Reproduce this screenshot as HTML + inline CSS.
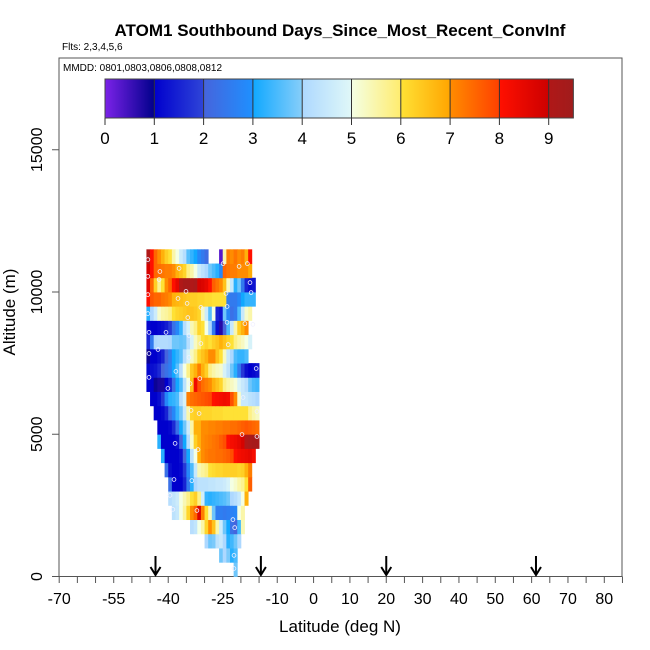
<!DOCTYPE html>
<html><head><meta charset="utf-8">
<style>
html,body{margin:0;padding:0;background:#fff;}
svg{display:block;font-family:"Liberation Sans",Arial,sans-serif;}
</style></head>
<body>
<svg id="chart" width="650" height="650" viewBox="0 0 650 650">
  <text x="340" y="36" text-anchor="middle" font-size="17" font-weight="bold">ATOM1 Southbound Days_Since_Most_Recent_ConvInf</text>
  <text x="62" y="50" font-size="10">Flts: 2,3,4,5,6</text>
  <rect x="59" y="58" width="563" height="518.5" fill="none" stroke="#555" stroke-width="1"/>
  <text x="63" y="71" font-size="10">MMDD: 0801,0803,0806,0808,0812</text>
  <g id="curtain"></g>
  <g id="markers"></g>
  <g id="colorbar"></g>
  <g id="xaxis"></g>
  <g id="yaxis"></g>
  <g id="arrows"></g>
  <text x="340" y="632" text-anchor="middle" font-size="17">Latitude (deg N)</text>
  <text x="0" y="0" transform="translate(15,312) rotate(-90)" text-anchor="middle" font-size="17">Altitude (m)</text>
</svg>
<script>
// ---- data ----
const rowAltStep = 500;
const rowStartLat = [-22,-26,-30,-34,-39,-40,-40,-41,-42,-43,-43,-44,-45,-46,-46,-46,-46,-46,-46,-46,-46,-46,-46];
const rowValues = [
 [3.8],
 [3.8,4.0,3.9,3.2,3.5],
 [4.0,3.8,3.9,4.3,4.5,4.0,3.2,3.4,3.8,4.0],
 [4.2,4.4,5.0,5.5,6.2,7.0,6.5,5.5,4.6,3.8,3.0,2.3,2.0,3.4,5.4],
 [4.3,4.5,5.0,5.6,6.2,7.0,7.5,8.7,7.2,6.0,5.3,3.8,2.6,2.6,2.5,2.6,2.7,2.8,5.0,5.5],
 [4.2,4.4,4.6,5.0,5.4,5.8,6.0,6.3,5.8,4.7,3.3,3.2,3.3,3.4,3.5,3.6,3.8,4.0,4.2,4.5,5.0,6.8],
 [2.3,1.0,1.0,1.0,1.5,2.5,3.2,4.0,4.3,4.3,4.3,4.4,4.4,4.5,4.5,4.6,4.8,5.0,5.2,5.5,5.7,6.0,7.6],
 [2.3,1.2,1.0,1.0,1.1,1.8,2.8,3.5,4.5,5.4,5.6,5.8,6.0,6.1,6.2,6.2,6.3,6.3,6.3,6.3,6.2,6.3,6.8,7.2],
 [3.2,1.0,1.0,1.0,1.0,1.2,2.0,3.0,4.3,5.0,6.8,7.0,7.2,7.3,7.3,7.4,7.4,7.5,7.6,7.8,8.0,8.2,8.3,8.4,8.5,8.2],
 [3.2,1.0,1.0,1.0,1.0,1.2,2.0,3.0,4.2,5.2,6.3,6.8,7.0,7.1,7.2,7.3,7.4,7.6,7.8,8.0,8.2,8.3,8.5,8.8,9.0,9.2,9.3,9.3],
 [1.0,1.0,1.0,1.1,1.6,2.3,3.0,3.8,4.6,5.5,6.8,6.8,7.0,7.0,7.1,7.1,7.2,7.2,7.3,7.3,7.4,7.4,7.5,7.6,7.7,7.6,7.5,7.4],
 [1.0,1.0,1.1,1.5,2.2,2.8,3.3,3.8,4.5,5.5,6.2,6.3,6.3,6.2,6.2,6.2,6.1,6.1,6.1,6.0,6.0,6.0,6.0,6.0,6.0,6.0,5.8,5.5,5.3],
 [1.0,1.0,1.2,1.8,2.8,3.2,3.3,3.5,4.2,4.8,7.2,7.4,7.5,7.6,7.7,7.8,7.9,8.0,8.1,8.2,8.3,8.2,7.8,7.0,5.2,4.5,4.5,4.3,4.2,4.0],
 [1.0,1.0,0.9,0.8,0.8,1.0,1.5,2.2,3.0,3.5,4.3,5.0,6.5,8.3,7.8,7.4,7.2,7.0,6.8,6.5,6.2,5.8,5.5,5.3,5.1,4.8,4.5,4.2,3.8,3.5,3.4],
 [1.1,1.2,1.3,1.6,2.0,2.3,2.6,3.0,3.6,4.2,5.0,5.8,6.4,6.8,7.2,6.8,6.3,5.8,5.5,5.3,5.2,4.8,4.3,3.8,3.2,2.5,1.8,1.2,1.0,1.1,1.3],
 [0.9,1.0,1.0,1.2,1.5,2.0,2.5,3.0,3.3,3.6,4.2,4.8,5.3,5.8,6.2,6.5,6.8,7.0,7.0,6.5,6.0,5.3,4.5,4.0,3.5,3.3,3.3,3.5],
 [1.5,2.5,4.0,4.1,4.1,4.1,4.0,3.8,3.8,3.7,3.8,4.2,4.8,5.3,5.8,6.0,6.2,6.0,6.3,6.5,6.8,6.5,6.2,6.0,5.8,5.5,5.3,5.0,4.8],
 [1.1,1.0,1.0,1.1,1.2,1.4,1.8,2.3,2.8,3.3,4.2,4.8,5.4,5.8,6.2,6.0,5.0,4.0,2.5,1.2,0.7,2.0,3.5,4.5,5.5,6.3,6.8,7.0],
 [3.2,4.0,4.6,5.2,5.5,5.6,5.8,6.0,6.2,6.3,6.4,6.5,6.5,6.4,6.2,5.3,4.6,3.6,5.0,1.5,1.3,3.8,2.8,2.3,2.5,3.5,4.5,5.2,5.5],
 [8.0,7.7,7.5,7.5,7.3,7.2,7.0,6.8,6.7,6.6,6.5,6.4,6.3,6.3,6.2,6.2,6.1,6.1,6.0,6.0,6.0,6.0,2.6,2.5,2.5,2.8,3.0,3.3,3.3,3.3],
 [8.6,7.5,6.3,5.7,6.0,7.0,7.5,8.0,8.5,9.0,9.3,9.3,9.0,9.2,8.8,8.7,8.5,8.0,7.6,7.3,7.0,6.5,5.3,4.5,3.2,3.8,2.5,1.5,1.2,1.3],
 [8.8,8.0,7.5,7.4,7.3,7.2,7.2,7.0,6.8,6.5,6.2,5.8,5.5,5.0,4.6,4.3,4.0,3.8,3.5,3.2,2.8,7.5,7.3,7.2,7.2,7.0,7.0,7.0,6.9],
 [9.0,8.0,7.5,7.0,6.8,6.3,6.0,5.5,5.0,4.6,4.2,3.6,3.3,3.0,2.8,2.5,2.2,null,null,null,0.3,5.5,7.2,7.0,7.3,7.0,7.2,6.8,8.0]
];
const markerLat = [-45.6,-42.3,-37.0,-45.6,-24.9,-18.2,-20.5,-42.5,-35.1,-45.6,-37.3,-34.8,-31.0,-24.1,-17.5,-17.2,-45.6,-34.6,-23.8,-23.8,-18.9,-16.7,-45.3,-40.6,-34.3,-31.0,-23.5,-42.8,-45.3,-34.3,-15.8,-45.3,-37.9,-31.3,-40.1,-34.0,-19.4,-33.7,-31.5,-15.6,-19.7,-15.6,-38.1,-31.8,-38.4,-33.5,-39.5,-38.7,-32.1,-22.2,-21.7,-21.9,-21.9];
const markerAlt = [11140,10720,10830,10550,11000,11000,10900,10440,10020,9910,9770,9600,9460,9950,10330,9980,9240,9100,9490,8930,8890,8860,8580,8580,8470,8190,8150,7980,7840,7700,7310,7000,7210,6960,6610,6780,6290,5840,5730,5800,4990,4920,4680,4460,3410,3370,2850,2360,2320,2000,1720,740,280];
const xTickLabels = ["-70","-55","-40","-25","-10","0","10","20","30","40","50","60","70","80"];
const yTicks = [0,5000,10000,15000];
const arrowLats = [-43.5,-14.5,20,61.2];
const cbarTicks = [0,1,2,3,4,5,6,7,8,9];

// ---- scales ----
const X0 = 59.2, PXDEG = 3.634;
function xs(lat){ return X0 + (lat + 70) * PXDEG; }
function ys(alt){ return 576.5 - alt * 0.02845; }
const CB0 = 105, CBU = 49.3;
function cbx(v){ return CB0 + v * CBU; }

const segCols = [
 ["#7b22e8","#00008b"],["#0000cd","#2f45d8"],["#4664dc","#1e90ff"],["#10a8ff","#87cefa"],
 ["#add8ff","#e0f8f8"],["#f4ffe4","#ffec6e"],["#ffe135","#ffa500"],["#ff8c00","#ff4000"],
 ["#ff1000","#cc0000"],["#b01818","#a01c1c"]
];
function hex(h){ return [parseInt(h.substr(1,2),16),parseInt(h.substr(3,2),16),parseInt(h.substr(5,2),16)]; }
function colorOf(v){
  let i = Math.min(9, Math.max(0, Math.floor(v)));
  let t = Math.min(1, Math.max(0, v - i));
  if (i === 9) t = t * 2;
  const a = hex(segCols[i][0]), b = hex(segCols[i][1]);
  const c = a.map((x,k)=>Math.round(x + (b[k]-x)*Math.min(1,t)));
  return "rgb(" + c.join(",") + ")";
}
const NS = "http://www.w3.org/2000/svg";
function mk(tag, attrs, parent){
  const e = document.createElementNS(NS, tag);
  for (const k in attrs) e.setAttribute(k, attrs[k]);
  parent.appendChild(e);
  return e;
}

// ---- curtain ----
const cg = document.getElementById("curtain");
rowValues.forEach((vals, k) => {
  const y1 = ys((k+1)*rowAltStep), y0 = ys(k*rowAltStep);
  vals.forEach((v, j) => {
    if (v === null) return;
    const lat = rowStartLat[k] + j;
    const r = mk("rect", {x: xs(lat).toFixed(2), y: y1.toFixed(2), width: (PXDEG+0.4).toFixed(2), height: (y0-y1+0.4).toFixed(2), fill: colorOf(v)}, cg);
    
    
  });
});

// ---- markers ----
const mg = document.getElementById("markers");
markerLat.forEach((lat, i) => {
  const c = mk("circle", {cx: xs(lat).toFixed(1), cy: ys(markerAlt[i]).toFixed(1), r: 1.9, fill: "none", stroke: "#f0f0ff", "stroke-width": 0.8}, mg);
  
  
});

// ---- colorbar ----
const cb = document.getElementById("colorbar");
const defs = mk("defs", {}, cb);
segCols.forEach((sc, i) => {
  const g = mk("linearGradient", {id: "g"+i, x1:"0", x2:"1", y1:"0", y2:"0"}, defs);
  mk("stop", {offset:"0", "stop-color": sc[0]}, g);
  mk("stop", {offset:"1", "stop-color": sc[1]}, g);
  const w = i === 9 ? CBU/2 : CBU;
  const r = mk("rect", {x: cbx(i), y: 79, width: w+0.3, height: 39, fill: "url(#g"+i+")"}, cb);
  
  
});
mk("rect", {x: cbx(0), y: 79, width: cbx(9.5)-cbx(0), height: 39, fill: "none", stroke: "#444", "stroke-width": 1}, cb);
cbarTicks.forEach(t => {
  if (t > 0) mk("line", {x1: cbx(t), x2: cbx(t), y1: 79, y2: 118, stroke: "#333", "stroke-width": 1}, cb);
  mk("line", {x1: cbx(t), x2: cbx(t), y1: 118, y2: 125, stroke: "#333", "stroke-width": 1}, cb);
  const tx = mk("text", {x: cbx(t), y: 144, "text-anchor": "middle", "font-size": 17}, cb);
  tx.textContent = String(t);
  
  
});

// ---- x axis ----
const xg = document.getElementById("xaxis");
for (let lat = -70; lat <= 85; lat += 5) {
  mk("line", {x1: xs(lat), x2: xs(lat), y1: 576.5, y2: 583, stroke: "#555", "stroke-width": 1}, xg);
}
xTickLabels.forEach(s => {
  const t = mk("text", {x: xs(parseFloat(s)), y: 604, "text-anchor": "middle", "font-size": 16}, xg);
  t.textContent = s;
  
  
});

// ---- y axis ----
const yg = document.getElementById("yaxis");
yTicks.forEach(v => {
  mk("line", {x1: 52, x2: 59, y1: ys(v), y2: ys(v), stroke: "#555", "stroke-width": 1}, yg);
  const t = mk("text", {x: 0, y: 0, transform: "translate(42," + ys(v) + ") rotate(-90)", "text-anchor": "middle", "font-size": 16}, yg);
  t.textContent = String(v);
  
  
});

// ---- arrows ----
const ag = document.getElementById("arrows");
arrowLats.forEach(lat => {
  const x = xs(lat);
  const g = mk("g", {}, ag);
  
  
  mk("line", {x1: x, x2: x, y1: 556, y2: 575, stroke: "#000", "stroke-width": 2}, g);
  mk("polyline", {points: (x-5)+",567 "+x+",575 "+(x+5)+",567", fill: "none", stroke: "#000", "stroke-width": 2}, g);
});
</script>
</body></html>
